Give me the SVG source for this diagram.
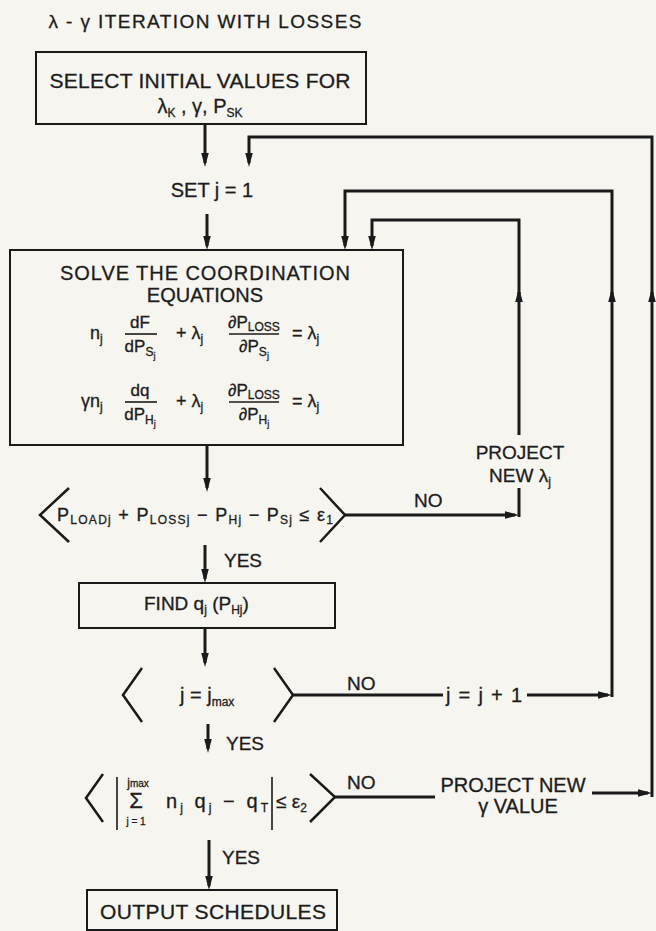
<svg xmlns="http://www.w3.org/2000/svg" width="656" height="931" viewBox="0 0 656 931">
<defs>
<marker id="ah" markerUnits="userSpaceOnUse" markerWidth="14" markerHeight="10" refX="10" refY="5" orient="auto"><path d="M0,1.2 L14,5 L0,8.8 z" fill="#1a1a1a"/></marker>
<style>
text{font-family:"Liberation Sans",Arial,Helvetica,sans-serif;fill:#1c1c1c;stroke:#1c1c1c;stroke-width:0.3}
.c{text-anchor:middle}
.box{fill:none;stroke:#1a1a1a;stroke-width:2}
.dec{fill:none;stroke:#1a1a1a;stroke-width:2.5}
.ln{fill:none;stroke:#1a1a1a;stroke-width:3}
.ar{fill:none;stroke:#1a1a1a;stroke-width:3;marker-end:url(#ah)}
.fr{stroke:#1a1a1a;stroke-width:1.6}
.s{font-size:12px}
.ss{font-size:9px}
</style>
</defs>
<rect width="656" height="931" fill="#f6f5f0"/>
<text x="205" y="28" class="c" font-size="19" textLength="313">λ - γ ITERATION WITH LOSSES</text>

<g id="select">
<rect class="box" x="36" y="52" width="330" height="72"/>
<text x="200" y="88" class="c" font-size="21" textLength="301">SELECT INITIAL VALUES FOR</text>
<text x="200" y="113" class="c" font-size="20">λ<tspan class="s" dy="4">K</tspan><tspan dy="-4"> , γ, P</tspan><tspan class="s" dy="4">SK</tspan></text>
</g>

<g id="setj">
<text x="212" y="197" class="c" font-size="20">SET j = 1</text>
</g>

<g id="solve">
<rect class="box" x="10" y="250" width="393" height="195"/>
<text x="205" y="280" class="c" font-size="20" textLength="290">SOLVE THE COORDINATION</text>
<text x="205" y="302" class="c" font-size="20">EQUATIONS</text>
<text x="90" y="339" font-size="18">n<tspan class="s" dy="4">j</tspan></text>
<text x="140" y="328" class="c" font-size="17">dF</text>
<line class="fr" x1="125" y1="334" x2="157" y2="334"/>
<text x="140" y="352" class="c" font-size="17">dP<tspan class="s" dy="4">S</tspan><tspan class="ss" dy="3">j</tspan></text>
<text x="176" y="339" font-size="18">+ λ<tspan class="s" dy="4">j</tspan></text>
<text x="254" y="328" class="c" font-size="17">∂P<tspan class="s" dy="3">LOSS</tspan></text>
<line class="fr" x1="229" y1="334" x2="279" y2="334"/>
<text x="254" y="352" class="c" font-size="17">∂P<tspan class="s" dy="4">S</tspan><tspan class="ss" dy="3">j</tspan></text>
<text x="292" y="339" font-size="18">= λ<tspan class="s" dy="4">j</tspan></text>
<text x="81" y="407" font-size="18">γn<tspan class="s" dy="4">j</tspan></text>
<text x="140" y="396" class="c" font-size="17">dq</text>
<line class="fr" x1="125" y1="402" x2="157" y2="402"/>
<text x="140" y="420" class="c" font-size="17">dP<tspan class="s" dy="4">H</tspan><tspan class="ss" dy="3">j</tspan></text>
<text x="176" y="407" font-size="18">+ λ<tspan class="s" dy="4">j</tspan></text>
<text x="254" y="396" class="c" font-size="17">∂P<tspan class="s" dy="3">LOSS</tspan></text>
<line class="fr" x1="229" y1="402" x2="279" y2="402"/>
<text x="254" y="420" class="c" font-size="17">∂P<tspan class="s" dy="4">H</tspan><tspan class="ss" dy="3">j</tspan></text>
<text x="292" y="407" font-size="18">= λ<tspan class="s" dy="4">j</tspan></text>
</g>

<g id="projlambda">
<text x="520" y="459" class="c" font-size="19">PROJECT</text>
<text x="520" y="482" class="c" font-size="19">NEW λ<tspan class="s" dy="4">j</tspan></text>
</g>

<g id="dec1">
<path class="dec" d="M69,488 L40,515 L69,542"/>
<path class="dec" d="M320,488 L345,515 L320,542"/>
<text x="57" y="521" font-size="18" textLength="276">P<tspan class="s" dy="3">LOADj</tspan><tspan dy="-3"> + P</tspan><tspan class="s" dy="3">LOSSj</tspan><tspan dy="-3"> − P</tspan><tspan class="s" dy="3">Hj</tspan><tspan dy="-3"> − P</tspan><tspan class="s" dy="3">Sj</tspan><tspan dy="-3"> ≤ ε</tspan><tspan class="s" dy="3">1</tspan></text>
</g>

<g id="find">
<rect class="box" x="79" y="583" width="256" height="45"/>
<text x="144" y="610" font-size="19">FIND q<tspan class="s" dy="4">j</tspan><tspan dy="-4"> (P</tspan><tspan class="s" dy="4">Hj</tspan><tspan dy="-4">)</tspan></text>
</g>

<g id="dec2">
<path class="dec" d="M142,668 L123,695 L142,722"/>
<path class="dec" d="M274,668 L293,695 L274,722"/>
<text x="180" y="702" font-size="20">j = j<tspan class="s" dy="4">max</tspan></text>
</g>

<g id="incj">
<text x="446" y="702" font-size="20" textLength="76">j = j + 1</text>
</g>

<g id="dec3">
<path class="dec" d="M103,774 L86,798 L103,822"/>
<path class="dec" d="M310,774 L335,797 L310,822"/>
<line class="fr" x1="117" y1="777" x2="117" y2="830"/>
<line class="fr" x1="272" y1="777" x2="272" y2="830"/>
<text x="138" y="787" class="c" font-size="12">j<tspan font-size="10">max</tspan></text>
<text x="136" y="808" class="c" font-size="22">Σ</text>
<text x="136" y="825" class="c" font-size="10">j = 1</text>
<text x="166" y="808" font-size="20" textLength="102">n<tspan class="s" dy="4">j</tspan><tspan dy="-4"> q</tspan><tspan class="s" dy="4">j</tspan><tspan dy="-4"> − q</tspan><tspan class="s" dy="4">T</tspan></text>
<text x="276" y="808" font-size="19">≤ ε<tspan class="s" dy="4">2</tspan></text>
</g>

<g id="projgamma">
<text x="513" y="792" class="c" font-size="20">PROJECT NEW</text>
<text x="518" y="813" class="c" font-size="20">γ VALUE</text>
</g>

<g id="output">
<rect class="box" x="87" y="890" width="250" height="40"/>
<text x="213" y="919" class="c" font-size="21" textLength="226">OUTPUT SCHEDULES</text>
</g>

<g id="connectors">
<path class="ar" d="M205,124 V163"/>
<path class="ar" d="M207,214 V246"/>
<path class="ar" d="M207,446 V488"/>
<path class="ar" d="M205,545 V579"/>
<path class="ar" d="M205,629 V663"/>
<path class="ar" d="M208,724 V749"/>
<path class="ar" d="M209,840 V886"/>
<path class="ar" d="M345,515 H515"/>
<path class="ln" d="M519,517 V488"/>
<path class="ar" d="M519,435 V292"/>
<path class="ar" d="M519,294 V220 H372 V246"/>
<path class="ln" d="M293,695 H443"/>
<path class="ar" d="M527,695 H608"/>
<path class="ar" d="M612,697 V292"/>
<path class="ar" d="M612,294 V191 H345 V246"/>
<path class="ln" d="M335,797 H435"/>
<path class="ar" d="M592,793 H648"/>
<path class="ar" d="M652,797 V292"/>
<path class="ar" d="M652,294 V137 H249 V163"/>
<text x="224" y="567" font-size="19">YES</text>
<text x="414" y="507" font-size="19">NO</text>
<text x="347" y="690" font-size="19">NO</text>
<text x="226" y="750" font-size="19">YES</text>
<text x="347" y="789" font-size="19">NO</text>
<text x="222" y="864" font-size="19">YES</text>
</g>
</svg>
